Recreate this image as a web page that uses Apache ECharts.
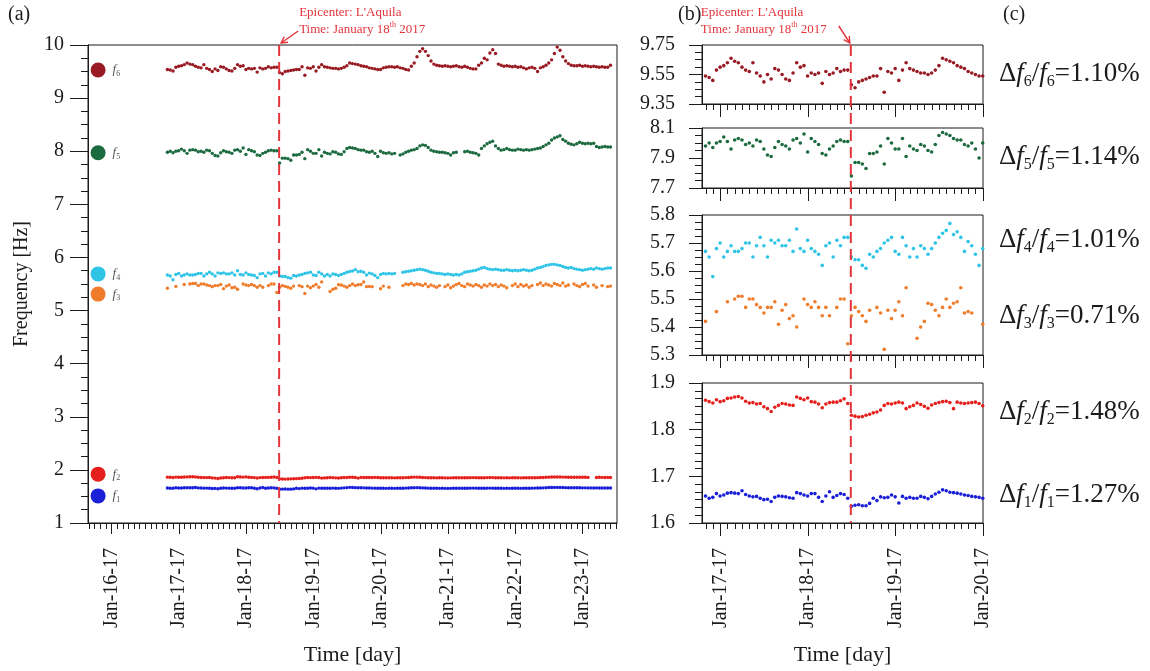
<!DOCTYPE html>
<html>
<head>
<meta charset="utf-8">
<script src="https://cdn.jsdelivr.net/npm/echarts@6/dist/echarts.min.js"></script>
<style>
  html, body { margin: 0; padding: 0; background: #fff; }
  #main { width: 1150px; height: 671px; }
</style>
</head>
<body>
<div id="main"></div>
<script>
// hourly samples, first one at Jan 16 ~20:00 (day number = day of January)
var sampleStart = 16.83;
var sampleStep = 1 / 24;
var epicenterDay = 18.49;

var dayTicks = [16, 17, 18, 19, 20, 21, 22, 23];
var dayTickLabels = ['Jan-16-17', 'Jan-17-17', 'Jan-18-17', 'Jan-19-17', 'Jan-20-17', 'Jan-21-17', 'Jan-22-17', 'Jan-23-17'];

// zoomed panel tick labels
var b1Ticks = [9.35, 9.55, 9.75];
var b2Ticks = [7.7, 7.9, 8.1];
var b3Ticks = [5.3, 5.4, 5.5, 5.6, 5.7, 5.8];
var b4Ticks = [1.6, 1.7, 1.8, 1.9];

// frequencies [Hz] (null = no sample)
var f6 = [
  9.54, 9.53, 9.51, 9.58, 9.60, 9.61, 9.63, 9.66, 9.64, 9.63,
  9.60, 9.58, 9.57, 9.63, 9.56, 9.54, 9.50, 9.55, 9.52, 9.59,
  9.58, 9.55, 9.52, 9.51, 9.56, 9.63, 9.60, 9.61, 9.54, 9.56,
  9.55, 9.56, 9.49, 9.57, 9.55, 9.56, 9.59, 9.57, 9.58, 9.58,
  9.48, 9.46, 9.50, 9.51, 9.52, 9.53, 9.54, 9.54, 9.59, 9.43,
  9.57, 9.56, 9.59, 9.51, 9.58, 9.63, 9.59, 9.58, 9.57, 9.56,
  9.56, 9.55, 9.56, 9.58, 9.61, 9.66, 9.65, 9.64, 9.63, 9.61,
  9.60, 9.59, 9.57, 9.56, 9.55, 9.54, 9.54,
  9.57, 9.58, 9.59, 9.59, 9.58, 9.59, 9.57, 9.56, 9.54, 9.53,
  9.60, 9.66, 9.78, 9.88, 9.93, 9.88, 9.80, 9.70, 9.64, 9.62,
  9.61, 9.60, 9.61, 9.60, 9.59, 9.60, 9.61, 9.59, 9.58, 9.60,
  9.58, 9.56, 9.55, 9.55, 9.62, 9.66, 9.75, 9.72, 9.85, 9.91,
  9.84, 9.64, 9.62, 9.60, 9.61, 9.60, 9.59, 9.60, 9.58, 9.59,
  9.57, 9.55, 9.57, 9.58, 9.56, 9.50, 9.57, 9.59, 9.62, 9.66,
  9.72, 9.84, 9.96, 9.90, 9.78, 9.70, 9.65, 9.62, 9.61, 9.61,
  9.62, 9.60, 9.61, 9.60, 9.59, 9.60, 9.59, 9.58, 9.59, 9.58,
  9.58, 9.62
];
var f5 = [
  7.98, 8.00, 7.97, 8.00, 8.01, 8.04, 8.01, 7.96, 8.02, 8.03,
  8.02, 7.99, 8.00, 7.98, 8.02, 8.01, 7.96, 7.92, 7.91, 7.97,
  8.01, 7.99, 7.98, 7.96, 8.02, 8.03, 8.00, 8.06, 7.94, 8.03,
  8.01, 7.99, 7.93, 7.92, 7.96, 7.98, 8.01, 8.02, 8.01, 8.01,
  7.78, 7.87, 7.87, 7.86, 7.83, 7.93, 7.93, 7.94, 7.98, 7.86,
  8.03, 8.00, 7.96, 7.96, 8.03, 7.91, 7.98, 7.96, 7.95, 7.99,
  7.98, 7.95, 7.94, 7.99, 8.05, 8.07, 8.06, 8.05, 8.03, 8.02,
  8.02, 7.99, 7.98, 8.00, 7.96, 7.90, 8.00,
  7.97, 7.96, 7.97, 7.95, 7.96, null, 7.93, 7.95, 7.98, 8.00,
  8.02, 8.03, 8.05, 8.10, 8.12, 8.11, 8.07, 8.02, 8.00, 7.99,
  7.98, 7.98, 7.97, 7.96, 7.93, 7.97, 7.98, null, null, 7.99,
  8.00, 7.98, 7.97, 7.96, 7.93, 8.05, 8.10, 8.14, 8.17, 8.19,
  8.10, 8.05, 8.02, 8.03, 8.05, 8.03, 8.02, 8.02, 8.04, 8.03,
  8.02, 8.03, 8.02, 8.03, 8.04, 8.05, 8.06, 8.09, 8.12, 8.15,
  8.21, 8.25, 8.27, 8.29, 8.22, 8.19, 8.15, 8.13, 8.12, 8.14,
  8.17, 8.15, 8.14, 8.15, 8.14, 8.15, 8.09, 8.07, 8.08, 8.09,
  8.08, 8.08
];
var f4 = [
  5.67, 5.65, 5.58, 5.68, 5.70, 5.65, 5.67, 5.69, 5.67, 5.67,
  5.68, 5.70, 5.70, 5.65, 5.69, 5.72, 5.69, 5.65, 5.71, 5.70,
  5.71, 5.69, 5.69, 5.71, 5.67, 5.75, 5.68, 5.67, 5.71, 5.68,
  5.67, 5.66, 5.62, 5.69, 5.70, 5.65, 5.71, 5.69, 5.72, 5.72,
  5.65, 5.64, 5.64, 5.62, 5.61, 5.66, 5.65, 5.67, 5.68, 5.70,
  5.71, 5.72, 5.67, 5.66, 5.72, 5.69, 5.65, 5.68, 5.65, 5.69,
  5.68, 5.66, 5.68, 5.70, 5.72, 5.735, 5.745, 5.77, 5.73, 5.74,
  5.72, 5.67, 5.705, 5.69, 5.66, 5.62, 5.68,
  5.70, 5.69, 5.70, 5.69, 5.70, null, null, 5.72, 5.73, 5.74,
  5.75, 5.76, 5.77, 5.78, 5.77, 5.76, 5.74, 5.72, 5.71, 5.70,
  5.70, 5.69, 5.68, 5.69, 5.68, 5.67, 5.68, 5.67, 5.69, 5.72,
  5.73, 5.74, 5.75, 5.76, 5.78, 5.80, 5.81, 5.79, 5.78, 5.77,
  5.78, 5.77, 5.76, 5.76, 5.77, 5.76, 5.75, 5.76, 5.75, 5.76,
  5.77, 5.76, 5.75, 5.76, 5.78, 5.80, 5.81, 5.83, 5.85, 5.86,
  5.87, 5.87, 5.86, 5.85, 5.83, 5.81, 5.80, 5.81, 5.79, 5.78,
  5.77, 5.76, 5.77, 5.78, 5.79, 5.78, 5.80, 5.79, 5.78, 5.79,
  5.80, 5.80
];
var f3 = [
  5.42, null, null, 5.455, null, null, 5.49, null, 5.50, 5.51,
  5.51, 5.47, 5.50, 5.50, 5.48, 5.47, 5.45, 5.47, 5.47, 5.49,
  5.41, 5.46, 5.48, 5.43, 5.44, 5.40, null, 5.50, 5.48, 5.47,
  5.49, 5.47, 5.44, 5.47, 5.44, null, 5.47, 5.50, 5.50, 5.34,
  5.44, 5.47, 5.455, 5.44, 5.42, 5.46, null, 5.47, 5.45, 5.32,
  5.46, 5.43, 5.46, 5.49, 5.44, 5.54, null, null, 5.36, 5.40,
  5.42, 5.485, 5.48, 5.46, 5.44, 5.47, 5.50, 5.47, 5.485, 5.49,
  5.54, 5.45, 5.455, 5.45, null, null, 5.41,
  5.46, null, 5.44, null, null, null, null, 5.47, 5.50, 5.49,
  5.51, 5.48, 5.50, 5.49, 5.47, 5.50, 5.45, 5.48, 5.46, 5.44,
  5.47, null, 5.45, 5.48, 5.43, 5.46, 5.49, 5.51, 5.47, 5.45,
  5.50, 5.48, 5.46, 5.49, 5.47, 5.44, 5.48, 5.46, 5.50, 5.47,
  5.49, 5.45, 5.48, 5.46, 5.43, null, 5.47, 5.50, 5.45, 5.49,
  5.46, 5.48, 5.44, 5.47, null, 5.49, 5.52, 5.47, 5.50, 5.48,
  5.46, 5.51, 5.49, 5.47, 5.52, 5.46, 5.48, null, 5.50, 5.47,
  5.45, 5.49, 5.51, 5.46, null, 5.48, 5.44, null, 5.47, null,
  5.45, 5.46
];
var f2 = [
  1.863, 1.860, 1.857, 1.864, 1.860, 1.862, 1.867, 1.868, 1.870, 1.871,
  1.868, 1.861, 1.857, 1.858, 1.855, 1.856, 1.849, 1.845, 1.839, 1.848,
  1.852, 1.856, 1.855, 1.853, 1.852, 1.870, 1.867, 1.864, 1.868, 1.860,
  1.859, 1.855, 1.847, 1.855, 1.858, 1.859, 1.859, 1.862, 1.866, 1.856,
  1.831, 1.829, 1.827, 1.828, 1.831, 1.833, 1.836, 1.838, 1.842, 1.852,
  1.856, 1.855, 1.857, 1.859, 1.857, 1.845, 1.849, 1.852, 1.857, 1.854,
  1.850, 1.846, 1.853, 1.856, 1.858, 1.860, 1.861, 1.858, 1.845, 1.859,
  1.857, 1.856, 1.857, 1.858, 1.859, 1.856, 1.851,
  1.852, 1.851, 1.853, 1.852, 1.850, 1.851, 1.852, 1.853, 1.855, 1.858,
  1.862, 1.864, 1.863, 1.860, 1.857, 1.855, 1.853, 1.852, 1.851, 1.850,
  1.851, 1.852, 1.850, 1.849, 1.850, 1.851, 1.852, 1.853, 1.852, 1.851,
  1.852, 1.854, 1.855, 1.854, 1.853, 1.852, 1.853, 1.855, 1.856, 1.855,
  1.853, 1.852, 1.851, 1.850, 1.851, 1.850, 1.851, 1.852, 1.851, 1.850,
  1.851, 1.852, 1.853, 1.852, 1.853, 1.854, 1.856, 1.858, 1.861, 1.863,
  1.865, 1.866, 1.866, 1.865, 1.864, 1.863, 1.862, 1.861, 1.862, 1.861,
  1.860, 1.861, 1.860, 1.859, null, null, 1.858, 1.860, 1.859, 1.858,
  1.859, 1.858
];
var f1 = [
  1.658, 1.653, 1.655, 1.663, 1.658, 1.660, 1.664, 1.665, 1.664, 1.663,
  1.669, 1.661, 1.658, 1.656, 1.657, 1.653, 1.650, 1.651, 1.646, 1.655,
  1.658, 1.657, 1.656, 1.654, 1.653, 1.665, 1.663, 1.660, 1.658, 1.663,
  1.663, 1.655, 1.646, 1.658, 1.667, 1.655, 1.659, 1.663, 1.661, 1.653,
  1.636, 1.638, 1.639, 1.637, 1.637, 1.642, 1.653, 1.648, 1.656, 1.654,
  1.655, 1.660, 1.656, 1.643, 1.657, 1.653, 1.655, 1.653, 1.653, 1.657,
  1.655, 1.652, 1.657, 1.662, 1.666, 1.671, 1.669, 1.666, 1.665, 1.664,
  1.662, 1.660, 1.659, 1.657, 1.656, 1.655, 1.653,
  1.653, 1.652, 1.654, 1.653, 1.652, 1.653, 1.654, 1.655, 1.657, 1.660,
  1.663, 1.665, 1.666, 1.664, 1.661, 1.658, 1.656, 1.655, 1.654, 1.653,
  1.652, 1.653, 1.652, 1.651, 1.652, 1.653, 1.654, 1.655, 1.654, 1.653,
  1.654, 1.656, 1.657, 1.656, 1.655, 1.654, 1.655, 1.656, 1.657, 1.656,
  1.655, 1.654, 1.653, 1.652, 1.653, 1.652, 1.653, 1.654, 1.653, 1.652,
  1.653, 1.654, 1.655, 1.656, 1.657, 1.658, 1.660, 1.662, 1.665, 1.667,
  1.669, 1.670, 1.670, 1.669, 1.668, 1.666, 1.665, 1.664, 1.664, 1.663,
  1.663, 1.662, 1.662, 1.661, 1.661, 1.660, 1.661, 1.660, 1.660, 1.659,
  1.660, 1.659
];

// relative drop of each mode, panel (c)
var modeIds = ['6', '5', '4', '3', '2', '1'];
var dropPct = ['1.10%', '1.14%', '1.01%', '0.71%', '1.48%', '1.27%'];

// ---------------------------------------------------------------------------
var FONT = '"Liberation Serif", "Times New Roman", serif';
var INK = '#1b1b1b';
var RED = '#e3343c';

var modes = [
  { id: '6', data: f6, color: '#981a22', zoomGrid: 1, legendY: 9.53 },
  { id: '5', data: f5, color: '#1c6a3f', zoomGrid: 2, legendY: 7.97 },
  { id: '4', data: f4, color: '#2fc4e6', zoomGrid: 3, legendY: 5.69 },
  { id: '3', data: f3, color: '#ef7c2a', zoomGrid: 3, legendY: 5.31 },
  { id: '2', data: f2, color: '#e5201c', zoomGrid: 4, legendY: 1.92 },
  { id: '1', data: f1, color: '#1a1fd8', zoomGrid: 4, legendY: 1.51 }
];
var legendDay = 15.80;

var grids = [
  { left: 88, top: 45, width: 529, height: 478 },
  { left: 702, top: 45, width: 281, height: 59 },
  { left: 702, top: 128, width: 281, height: 60 },
  { left: 702, top: 215, width: 281, height: 140 },
  { left: 702, top: 383, width: 281, height: 140 }
];
grids.forEach(function (g) {
  g.show = true; g.borderColor = INK; g.borderWidth = 1; g.backgroundColor = 'transparent';
});

function points(vals) {
  var out = [];
  vals.forEach(function (v, i) {
    if (v != null) out.push([sampleStart + i * sampleStep, v]);
  });
  return out;
}

var xAxes = [], yAxes = [], series = [];
var lineStyle = { color: INK, width: 1 };

function addX(gi, min, max, withLabels, majorLen, name) {
  var majors = dayTicks.filter(function (d) { return d >= min && d <= max; });
  var minors = [];
  for (var k = Math.ceil(min * 12); k <= Math.floor(max * 12); k++) {
    if (k % 12) minors.push(k / 12);
  }
  xAxes.push({
    type: 'value', gridIndex: gi, min: min, max: max, position: 'bottom',
    axisLine: { show: true, onZero: false, lineStyle: lineStyle },
    axisTick: { show: true, customValues: majors, length: majorLen, lineStyle: lineStyle },
    axisLabel: {
      show: withLabels, customValues: majors, rotate: 90, margin: 25,
      fontFamily: FONT, fontSize: 20, color: INK,
      formatter: function (v) { return dayTickLabels[dayTicks.indexOf(Math.round(v))]; }
    },
    splitLine: { show: false },
    name: name || '', nameLocation: 'middle', nameGap: 121,
    nameTextStyle: { fontFamily: FONT, fontSize: 22, color: INK }
  });
  var idx = xAxes.length - 1;
  xAxes.push({
    type: 'value', gridIndex: gi, min: min, max: max, position: 'bottom',
    axisLine: { show: false, onZero: false },
    axisTick: { show: true, customValues: minors, length: 6, lineStyle: lineStyle },
    axisLabel: { show: false },
    splitLine: { show: false }
  });
  return idx;
}

function addY(gi, min, max, majors, step, digits) {
  var minors = [];
  var n = Math.round((max - min) / step);
  for (var k = 1; k < n; k++) minors.push(min + k * step);
  yAxes.push({
    type: 'value', gridIndex: gi, min: min, max: max, position: 'left',
    axisLine: { show: true, onZero: false, lineStyle: lineStyle },
    axisTick: { show: true, customValues: majors, length: 13, lineStyle: lineStyle },
    axisLabel: {
      customValues: majors, margin: 27, fontFamily: FONT, fontSize: 20, color: INK,
      formatter: function (v) { return v.toFixed(digits); }
    },
    splitLine: { show: false }
  });
  var idx = yAxes.length - 1;
  yAxes.push({
    type: 'value', gridIndex: gi, min: min, max: max, position: 'left',
    axisLine: { show: false, onZero: false },
    axisTick: { show: true, customValues: minors, length: 7, lineStyle: lineStyle },
    axisLabel: { show: false },
    splitLine: { show: false }
  });
  return idx;
}

// panel (a)
var xa = addX(0, 15.65, 23.51, true, 11, 'Time [day]');
yAxes.push({
  type: 'value', gridIndex: 0, min: 1, max: 10, interval: 1, position: 'left',
  axisLine: { show: true, onZero: false, lineStyle: lineStyle },
  axisTick: { show: true, length: 18, lineStyle: lineStyle },
  minorTick: { show: true, splitNumber: 4, length: 7, lineStyle: lineStyle },
  axisLabel: { margin: 24, fontFamily: FONT, fontSize: 20, color: INK },
  splitLine: { show: false }, minorSplitLine: { show: false },
  name: 'Frequency [Hz]', nameLocation: 'middle', nameGap: 56,
  nameTextStyle: { fontFamily: FONT, fontSize: 20, color: INK }
});
var ya = 0;

// panel (b)
var xb = [null], yb = [null];
xb.push(addX(1, 16.79, 20, false, 13));
yb.push(addY(1, 9.35, 9.75, b1Ticks, 0.05, 2));
xb.push(addX(2, 16.79, 20, false, 13));
yb.push(addY(2, 7.7, 8.1, b2Ticks, 0.05, 1));
xb.push(addX(3, 16.79, 20, false, 13));
yb.push(addY(3, 5.3, 5.8, b3Ticks, 0.025, 1));
xb.push(addX(4, 16.79, 20, true, 13, 'Time [day]'));
yb.push(addY(4, 1.6, 1.9, b4Ticks, 0.1 / 6, 1));

modes.forEach(function (m) {
  var pts = points(m.data);
  series.push({
    type: 'scatter', xAxisIndex: xa, yAxisIndex: ya, data: pts,
    symbol: 'circle', symbolSize: 3.4, itemStyle: { color: m.color, opacity: 1 }, silent: true
  });
  series.push({
    type: 'scatter', xAxisIndex: xb[m.zoomGrid], yAxisIndex: yb[m.zoomGrid], data: pts,
    symbol: 'circle', symbolSize: 3.6, itemStyle: { color: m.color, opacity: 1 }, silent: true
  });
});

// legend markers inside panel (a)
series.push({
  type: 'scatter', xAxisIndex: xa, yAxisIndex: ya, symbolSize: 15, silent: true, z: 5,
  data: modes.map(function (m) {
    return {
      value: [legendDay, m.legendY], itemStyle: { color: m.color, opacity: 1 },
      label: {
        show: true, position: 'right', distance: 7,
        formatter: '{i|f}{s|' + m.id + '}',
        rich: {
          i: { fontFamily: FONT, fontStyle: 'italic', fontSize: 13, color: '#555', verticalAlign: 'middle', lineHeight: 16 },
          s: { fontFamily: FONT, fontSize: 8, color: '#555', verticalAlign: 'bottom', lineHeight: 12 }
        }
      }
    };
  })
});

var chart = echarts.init(document.getElementById('main'));
chart.setOption({
  animation: false,
  backgroundColor: '#fff',
  grid: grids,
  xAxis: xAxes,
  yAxis: yAxes,
  series: series
});

// --- annotations placed through the axes ---
var ex1 = chart.convertToPixel({ xAxisIndex: xa }, epicenterDay);
var ex2 = chart.convertToPixel({ xAxisIndex: xb[1] }, epicenterDay);
var top0 = grids[0].top, bot0 = grids[0].top + grids[0].height;

function vArrow(x1, y1, x2, y2) {
  var a = Math.atan2(y2 - y1, x2 - x1), h = 7, w = 0.5;
  var p1 = [x2 - h * Math.cos(a - w), y2 - h * Math.sin(a - w)];
  var p2 = [x2 - h * Math.cos(a + w), y2 - h * Math.sin(a + w)];
  return [
    { type: 'line', shape: { x1: x1, y1: y1, x2: x2, y2: y2 }, style: { stroke: RED, lineWidth: 1.4 }, z: 20 },
    { type: 'polyline', shape: { points: [p1, [x2, y2], p2] }, style: { stroke: RED, fill: null, lineWidth: 1.4 }, z: 20 }
  ];
}

var noteRich = {
  n: { fontFamily: FONT, fontSize: 13, fill: RED, color: RED, verticalAlign: 'middle', lineHeight: 17 },
  p: { fontFamily: FONT, fontSize: 8, fill: RED, color: RED, verticalAlign: 'top', lineHeight: 10 }
};
function note(x) {
  return {
    type: 'text', z: 20,
    style: {
      x: x, y: 4, text: '{n|Epicenter: L\'Aquila}\n{n|Time: January 18}{p|th}{n| 2017}',
      rich: noteRich, fill: RED, fontFamily: FONT, fontSize: 13, verticalAlign: 'top'
    }
  };
}

var mathRich = {
  m: { fontFamily: FONT, fontSize: 27, fill: INK, color: INK, verticalAlign: 'middle', lineHeight: 32 },
  i: { fontFamily: FONT, fontSize: 27, fontStyle: 'italic', fill: INK, color: INK, verticalAlign: 'middle', lineHeight: 32 },
  s: { fontFamily: FONT, fontSize: 16, fill: INK, color: INK, verticalAlign: 'bottom', lineHeight: 20 }
};
var ratioY = [74, 157, 240, 316, 412, 495];

var graphics = [
  { type: 'line', z: 15, shape: { x1: ex1, y1: top0, x2: ex1, y2: bot0 }, style: { stroke: RED, lineWidth: 2, lineDash: [11, 6] } },
  { type: 'line', z: 15, shape: { x1: ex2, y1: top0, x2: ex2, y2: bot0 }, style: { stroke: RED, lineWidth: 2, lineDash: [11, 6] } },
  note(ex1 + 20),
  note(ex2 - 150),
  { type: 'text', style: { x: 8, y: 15, text: '(a)', fontFamily: FONT, fontSize: 20, fill: INK, verticalAlign: 'middle' } },
  { type: 'text', style: { x: 678, y: 15, text: '(b)', fontFamily: FONT, fontSize: 20, fill: INK, verticalAlign: 'middle' } },
  { type: 'text', style: { x: 1003, y: 15, text: '(c)', fontFamily: FONT, fontSize: 20, fill: INK, verticalAlign: 'middle' } }
].concat(vArrow(ex1 + 19, 31, ex1 + 2, 43), vArrow(ex2 - 12, 26, ex2 - 1, 43));

modeIds.forEach(function (id, k) {
  graphics.push({
    type: 'text',
    style: {
      x: 999, y: ratioY[k], verticalAlign: 'middle',
      text: '{m|\u0394}{i|f}{s|' + id + '}{m|/}{i|f}{s|' + id + '}{m|=' + dropPct[k] + '}',
      rich: mathRich, fontFamily: FONT, fontSize: 27, fill: INK
    }
  });
});

chart.setOption({ graphic: graphics });
</script>
</body>
</html>
